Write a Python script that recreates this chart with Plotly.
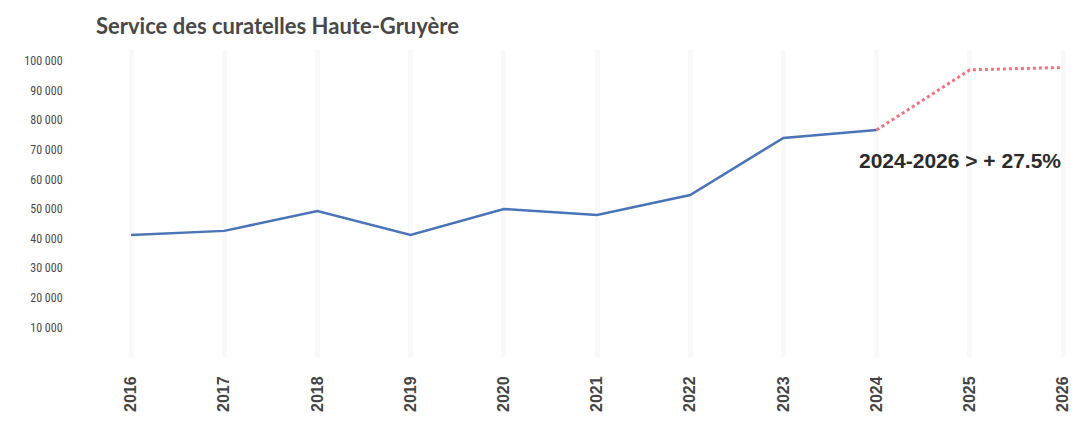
import plotly.graph_objects as go

# data
years = [2016, 2017, 2018, 2019, 2020, 2021, 2022, 2023, 2024]
values = [41200, 42600, 49300, 41200, 50000, 48000, 54700, 74000, 76700]

forecast_years = [2024, 2025, 2026]
forecast_values = [76700, 97000, 97800]

all_years = [2016, 2017, 2018, 2019, 2020, 2021, 2022, 2023, 2024, 2025, 2026]
y_ticks = [10000, 20000, 30000, 40000, 50000, 60000, 70000, 80000, 90000, 100000]
y_labels = ["10 000", "20 000", "30 000", "40 000", "50 000",
            "60 000", "70 000", "80 000", "90 000", "100 000"]

note_text = "2024-2026 > + 27.5%"
title_text = "Service des curatelles Haute-Gruyère"

fig = go.Figure()

# réel
fig.add_trace(go.Scatter(
    x=years, y=values, mode="lines",
    line=dict(color="#4A74B8", width=2.5),
    showlegend=False, hoverinfo="x+y"
))

# projection
fig.add_trace(go.Scatter(
    x=forecast_years, y=forecast_values, mode="lines",
    line=dict(color="#F5707E", width=3, dash="dot"),
    showlegend=False, hoverinfo="x+y"
))

fig.add_annotation(
    x=2024.89, y=66500, xref="x", yref="y",
    text="<b>" + note_text + "</b>", showarrow=False,
    font=dict(family="Liberation Sans, Arial", size=21, color="#2b2b2b")
)

fig.update_layout(
    width=1074, height=430,
    margin=dict(l=70, r=0, t=50, b=73),
    paper_bgcolor="white", plot_bgcolor="white",
    title=dict(
        text="<b>" + title_text + "</b>",
        x=96 / 1074, xref="container", xanchor="left",
        y=1 - 26 / 430, yref="container", yanchor="middle",
        font=dict(family="Lato, Open Sans", size=22, color="#484848")
    ),
    xaxis=dict(
        range=[2015.3455, 2026.118],
        tickvals=all_years, ticktext=["<b>%d</b>" % y for y in all_years],
        tickangle=-90, automargin=False, ticklabeloverflow="allow",
        showgrid=True, gridcolor="#f9f9f9", gridwidth=5,
        zeroline=False, showline=False,
        ticks="outside", ticklen=12, tickcolor="rgba(0,0,0,0)",
        tickfont=dict(family="Liberation Sans, Arial", size=16, color="#444444"),
    ),
    yaxis=dict(
        range=[0, 103700],
        tickvals=y_ticks, ticktext=y_labels, automargin=False,
        showgrid=False, zeroline=False, showline=False,
        ticks="outside", ticklen=4, tickcolor="rgba(0,0,0,0)",
        tickfont=dict(family="Roboto Condensed, Liberation Sans Narrow, Arial", size=12, color="#4a4a4a"),
    ),
)

# page body has a default 8px margin; drop it so the figure fills the window
fig.write_html("out.html", config={"displayModeBar": False},
               post_script="document.body.style.margin='0';")
